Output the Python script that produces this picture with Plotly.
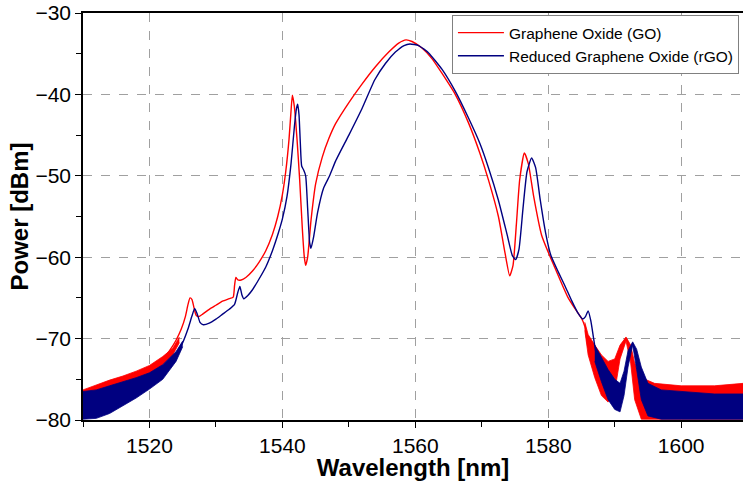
import plotly.graph_objects as go

# GO spectrum (centre line)
go_wl = [1510, 1512, 1514, 1516, 1518, 1520, 1521, 1522, 1523, 1524, 1524.8, 1525.4, 1525.8,
         1526.1, 1526.4, 1526.7, 1527.0, 1527.4, 1528, 1529, 1530, 1531, 1532, 1532.6, 1532.8,
         1533.0, 1533.3, 1533.8, 1534.5, 1535.5, 1536.5, 1537.5, 1538.5, 1539.3, 1540, 1540.5,
         1541.0, 1541.3, 1541.5, 1541.8, 1542.2, 1542.6, 1543.0, 1543.3, 1543.5, 1543.8, 1544.3,
         1545.0, 1546, 1547, 1548, 1550, 1552, 1554, 1556, 1557.5, 1558.6, 1559.5, 1561, 1562.5,
         1564, 1566, 1568, 1569.7, 1571, 1572.5, 1573.5, 1574.2, 1574.7, 1575.2, 1575.7, 1576.4,
         1577.0, 1577.8, 1579, 1580, 1581, 1582, 1583, 1584, 1585, 1585.5, 1586, 1587, 1588, 1589,
         1590, 1590.8, 1591.7, 1592.4, 1593, 1594, 1596, 1600, 1605, 1609.3]
go_pw = [-77.5, -76.8, -76.0, -75.3, -74.6, -73.8, -73.2, -72.5, -71.5, -70.2, -68.8, -67.3, -65.8,
         -65.0, -65.2, -66.2, -67.1, -67.3, -67.0, -66.4, -65.9, -65.4, -65.1, -64.9, -63.5,
         -62.5, -62.8, -62.8, -62.5, -61.7, -60.6, -59.2, -57.2, -55.0, -52.3, -49.5,
         -45.5, -42.0, -40.1, -41.5, -45.5, -50.5, -56.5, -60.0, -61.0, -60.0, -55.5,
         -51.0, -47.7, -45.4, -43.6, -41.0, -38.7, -36.6, -34.8, -33.7, -33.3, -33.5, -34.3, -35.6,
         -37.4, -40.0, -43.5, -47.2, -50.5, -55.0, -59.5, -62.3, -61.0, -56.0, -50.5, -47.2,
         -48.5, -52.5, -57.3, -59.4, -61.3, -63.2, -65.0, -66.3, -67.5, -68.5, -71.0, -72.8, -74.5, -75.0,
         -74.0, -71.5, -70.0, -71.5, -75.0, -77.0, -77.5, -77.8, -77.8, -77.5]

# rGO spectrum (centre line)
rgo_wl = [1510, 1512, 1514, 1516, 1518, 1520, 1521, 1522, 1523, 1524, 1525, 1525.8, 1526.4,
          1526.8, 1527.2, 1527.6, 1528.1, 1529, 1530, 1531, 1532, 1532.8, 1533.3, 1533.6, 1533.9,
          1534.2, 1534.8, 1535.5, 1536.4, 1537.5, 1538.5, 1539.4, 1540, 1540.7, 1541.3, 1541.8,
          1542.1, 1542.3, 1542.5, 1542.7, 1542.9, 1543.2, 1543.5, 1543.8, 1544.1, 1544.3, 1544.7,
          1545.3, 1546.2, 1547.1, 1548, 1550, 1552, 1553.9, 1555.5, 1557, 1558.3, 1559.2, 1560.5,
          1562, 1564, 1566, 1568, 1569.7, 1571, 1572.5, 1573.8, 1574.6, 1575.1, 1575.6, 1576.2,
          1576.8, 1577.5, 1578.1, 1578.8, 1579.6, 1580.4, 1581.5, 1582.5, 1583.5, 1584.5, 1585.2,
          1585.6, 1586, 1586.4, 1587.2, 1588, 1589, 1590, 1590.8, 1591.4, 1592, 1592.7, 1593.3,
          1594, 1595, 1597, 1600, 1605, 1609.3]
rgo_pw = [-78.3, -77.8, -77.2, -76.5, -75.8, -75.0, -74.5, -73.9, -73.0, -72.0, -70.5, -68.8, -67.2,
          -66.3, -67.0, -68.0, -68.3, -68.1, -67.6, -67.0, -66.4, -65.8, -64.3, -63.6, -64.6,
          -65.1, -64.7, -64.0, -62.8, -61.2, -59.2, -57.0, -55.3, -52.5, -48.5, -44.0,
          -41.8, -41.2, -42.5, -46.0, -48.8, -49.3, -50.0, -54.0, -58.2, -58.9, -57.5,
          -54.5, -51.5, -50.0, -48.2, -45.0, -41.7, -38.2, -36.2, -34.8, -34.0, -33.8, -34.0,
          -34.9, -36.9, -39.6, -42.9, -46.0, -49.0, -53.0, -57.2, -59.8, -60.3, -59.0, -54.0,
          -49.5, -47.8, -49.0, -53.0, -57.0, -59.8, -61.8, -63.5, -65.3, -66.9, -67.6,
          -67.3, -66.6, -67.8, -71.8, -73.8, -75.6, -76.8, -77.3, -75.5, -72.5, -70.6, -72.5,
          -75.5, -77.2, -78.0, -78.2, -78.3, -78.3]

# noise envelopes (upper / lower) in the noisy wings
go_noise_l_wl = [1510, 1512, 1514, 1516, 1518, 1520, 1522, 1523.5, 1524.5]
go_noise_l_hi = [-76.3, -75.7, -75.1, -74.6, -74.0, -73.3, -72.2, -71.2, -69.8]
go_noise_l_lo = [-79.5, -78.5, -77.3, -76.3, -75.4, -74.5, -73.2, -72.0, -70.5]

go_noise_r_wl = [1585.5, 1586, 1587, 1588, 1589, 1590, 1590.8, 1591.7, 1592.4, 1593, 1594, 1596, 1600, 1605, 1609.3]
go_noise_r_hi = [-68.0, -69.5, -70.8, -72.0, -72.8, -72.5, -70.8, -69.8, -70.8, -73.0, -74.8, -75.5, -75.8, -75.8, -75.5]
go_noise_r_lo = [-69.0, -72.0, -74.8, -77.0, -77.8, -76.5, -72.5, -70.3, -73.0, -77.5, -79.9, -79.9, -79.9, -79.9, -79.9]

rgo_noise_l_wl = [1510, 1512, 1514, 1516, 1518, 1520, 1522, 1524, 1525]
rgo_noise_l_hi = [-76.5, -76.3, -75.8, -75.3, -74.8, -74.2, -73.2, -71.6, -70.3]
rgo_noise_l_lo = [-79.9, -79.8, -79.2, -78.3, -77.3, -76.2, -75.0, -72.8, -71.0]

rgo_noise_r_wl = [1587, 1588, 1589, 1590, 1590.8, 1591.4, 1592, 1592.7, 1593.3, 1594, 1595, 1597, 1600, 1605, 1609.3]
rgo_noise_r_hi = [-70.8, -72.3, -73.8, -75.0, -75.5, -74.0, -71.5, -70.4, -71.3, -73.5, -75.5, -76.3, -76.5, -76.8, -76.8]
rgo_noise_r_lo = [-72.8, -75.3, -77.5, -78.7, -79.0, -77.0, -73.5, -70.8, -73.8, -77.5, -79.5, -79.9, -79.9, -79.9, -79.9]

RED = "#ff0000"
NAVY = "#000080"


def add_band(fig, wl, hi, lo, color):
    # lower edge first, then upper edge filled down to it
    fig.add_trace(go.Scatter(x=wl, y=lo, mode="lines", line=dict(width=0.8, color=color),
                             showlegend=False, hoverinfo="skip"))
    fig.add_trace(go.Scatter(x=wl, y=hi, mode="lines", line=dict(width=0.8, color=color),
                             fill="tonexty", fillcolor=color, showlegend=False, hoverinfo="skip"))


fig = go.Figure()
add_band(fig, go_noise_l_wl, go_noise_l_hi, go_noise_l_lo, RED)
add_band(fig, go_noise_r_wl, go_noise_r_hi, go_noise_r_lo, RED)
fig.add_trace(go.Scatter(x=go_wl, y=go_pw, mode="lines", name="Graphene Oxide (GO)",
                         line=dict(color=RED, width=1.4, shape="spline", smoothing=0.5)))
add_band(fig, rgo_noise_l_wl, rgo_noise_l_hi, rgo_noise_l_lo, NAVY)
add_band(fig, rgo_noise_r_wl, rgo_noise_r_hi, rgo_noise_r_lo, NAVY)
fig.add_trace(go.Scatter(x=rgo_wl, y=rgo_pw, mode="lines", name="Reduced Graphene Oxide (rGO)",
                         line=dict(color=NAVY, width=1.4, shape="spline", smoothing=0.5)))

axis_font = dict(family="Arial, Liberation Sans", size=21, color="black")
fig.update_layout(
    width=743, height=481,
    margin=dict(l=83, r=0, t=13, b=61),
    plot_bgcolor="white", paper_bgcolor="white",
    font=dict(family="Arial, Liberation Sans", color="black"),
    legend=dict(x=0.559, y=0.995, xanchor="left", yanchor="top", bgcolor="white",
                bordercolor="#808080", borderwidth=1, font=dict(size=15.5),
                traceorder="normal", tracegroupgap=0, itemwidth=46),
    xaxis=dict(
        range=[1510, 1609.3], dtick=20, tick0=1500, automargin=False,
        showgrid=True, gridcolor="#a0a0a0", griddash="dash", gridwidth=1,
        showline=True, linecolor="black", linewidth=1.5, mirror=True,
        ticks="outside", ticklen=6, tickcolor="black", tickfont=axis_font,
        minor=dict(dtick=10, ticks="outside", ticklen=5, tickcolor="black", showgrid=False),
        title=dict(text="<b>Wavelength [nm]</b>", font=dict(size=24), standoff=4),
        zeroline=False,
    ),
    yaxis=dict(
        range=[-80, -30], dtick=10, automargin=False, ticklabeloverflow="allow",
        showgrid=True, gridcolor="#a0a0a0", griddash="dash", gridwidth=1,
        showline=True, linecolor="black", linewidth=1.5,
        ticks="outside", ticklen=6, tickcolor="black", tickfont=axis_font,
        minor=dict(dtick=5, ticks="outside", ticklen=5, tickcolor="black", showgrid=False),
        title=dict(text="<b>Power [dBm]</b>", font=dict(size=24), standoff=0),
        zeroline=False,
    ),
)

# drop the default 8px page margin so the figure sits at the window's corner
fig.write_html("out.html", config={"displayModeBar": False},
               post_script="document.body.style.margin='0';")
